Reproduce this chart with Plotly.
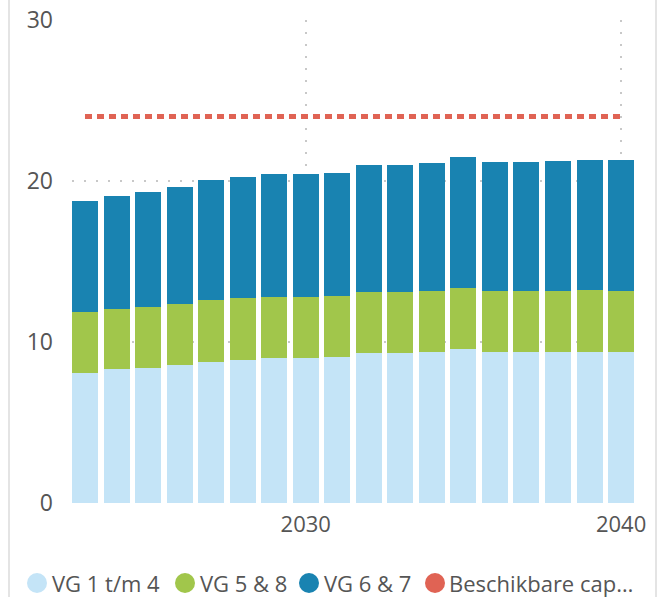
import plotly.graph_objects as go

years = list(range(2023, 2041))
vg_1_4 = [8.07, 8.31, 8.38, 8.57, 8.75, 8.88, 9.0, 9.0, 9.07, 9.32, 9.32, 9.38, 9.57, 9.38, 9.38, 9.38, 9.38, 9.38]
vg_5_8 = [3.8, 3.74, 3.8, 3.8, 3.85, 3.86, 3.8, 3.8, 3.79, 3.78, 3.78, 3.78, 3.78, 3.78, 3.78, 3.78, 3.85, 3.78]
vg_6_7 = [6.9, 7.04, 7.15, 7.28, 7.48, 7.53, 7.65, 7.65, 7.66, 7.9, 7.9, 7.98, 8.15, 8.04, 8.04, 8.1, 8.1, 8.17]
capacity = [24] * len(years)

series_names = ["VG 1 t/m 4", "VG 5 & 8", "VG 6 & 7", "Beschikbare cap…"]
colors = ["#c4e4f7", "#a1c64b", "#1983b1", "#e06354"]
y_ticks = [0, 10, 20, 30]
x_ticks = [2030, 2040]

W, H = 657, 597
ML, MR, MT, MB = 72, 23, 20, 94
PW, PH = W - ML - MR, H - MT - MB

def px_x(p):
    return (p - ML) / PW

def px_y(p):
    return (H - MB - p) / PH

fig = go.Figure()
for vals, name, col in zip([vg_1_4, vg_5_8, vg_6_7], series_names[:3], colors[:3]):
    fig.add_trace(go.Bar(x=years, y=vals, name=name, marker=dict(color=col, line=dict(width=0)),
                         width=0.825, showlegend=False))
fig.add_trace(go.Scatter(x=years, y=capacity, name=series_names[3], mode="lines",
                         line=dict(color=colors[3], width=5, dash="7px,5px"), showlegend=False))

font_fam = "Open Sans, Noto Sans, sans-serif"
txt_col = "#555555"

fig.update_layout(
    width=W, height=H,
    margin=dict(l=ML, r=MR, t=MT, b=MB, autoexpand=False),
    barmode="stack",
    paper_bgcolor="white", plot_bgcolor="white",
    showlegend=False,
    font=dict(family=font_fam, color=txt_col),
)
fig.update_xaxes(range=[2022.588, 2040.41], tickvals=x_ticks, ticktext=[str(v) for v in x_ticks],
                 showgrid=True, gridcolor="#c8c8c8", gridwidth=2, griddash="2px,10px",
                 zeroline=False, showline=False, ticks="", ticklabelstandoff=6, automargin=False,
                 tickfont=dict(size=22, color=txt_col, family=font_fam))
fig.update_yaxes(range=[0, 30], tickvals=y_ticks, showgrid=True, gridcolor="#c8c8c8", gridwidth=2,
                 griddash="2px,10px", zeroline=False, showline=False, ticks="", ticklabelstandoff=18,
                 automargin=False,
                 tickfont=dict(size=23, color=txt_col, family=font_fam))

# container borders
fig.add_shape(type="line", xref="paper", yref="paper", x0=px_x(9), x1=px_x(9), y0=px_y(0), y1=px_y(597),
              line=dict(color="#e4e4e4", width=2))
fig.add_shape(type="line", xref="paper", yref="paper", x0=px_x(656), x1=px_x(656), y0=px_y(0), y1=px_y(597),
              line=dict(color="#e4e4e4", width=2))

# legend
leg_circ = [37, 185, 309, 435]
leg_text = [50, 198, 322, 447]
ly = 583
for cx, tx, name, col in zip(leg_circ, leg_text, series_names, colors):
    fig.add_shape(type="circle", xref="paper", yref="paper",
                  x0=px_x(cx - 10), x1=px_x(cx + 10), y0=px_y(ly + 10), y1=px_y(ly - 10),
                  fillcolor=col, line=dict(width=0))
    fig.add_annotation(xref="paper", yref="paper", x=px_x(tx), y=px_y(ly), text=name,
                       showarrow=False, xanchor="left", yanchor="middle",
                       font=dict(size=22, color=txt_col, family=font_fam))

fig.write_html("out.html", config={"displayModeBar": False},
               post_script="document.body.style.margin='0';document.body.style.overflow='hidden';")
